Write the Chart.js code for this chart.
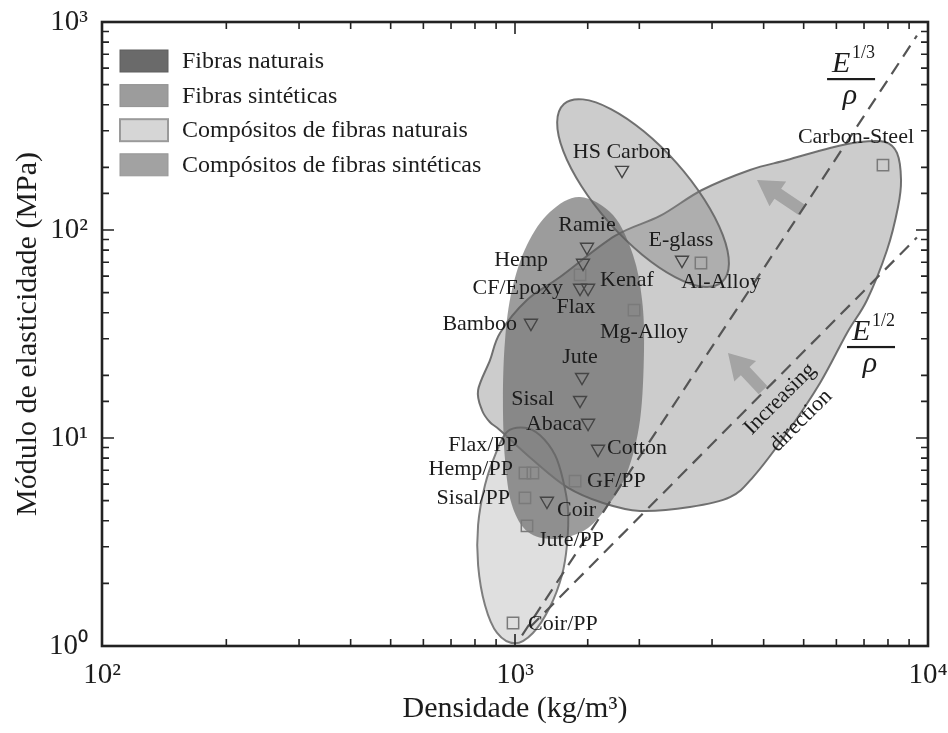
<!DOCTYPE html>
<html><head><meta charset="utf-8">
<script src="https://cdn.jsdelivr.net/npm/chart.js@4.4.1/dist/chart.umd.min.js"></script>
<style>html,body{margin:0;padding:0;background:#fff;}canvas{display:block;}</style>
</head><body>
<canvas id="c" width="948" height="733"></canvas>
<script>
// ---------------- DATA ----------------
const fiberNames = ['HS Carbon','Ramie','Hemp','Kenaf','Flax','Bamboo','E-glass','Jute','Sisal','Abaca','Cotton','Coir'];
const fiberDensity = [1816, 1494, 1461, 1503, 1437, 1093, 2537, 1453, 1437, 1503, 1589, 1195];
const fiberModulus = [194, 82.8, 69.4, 52.6, 52.6, 35.7, 71.7, 19.6, 15.2, 11.8, 8.85, 4.98];

const materialNames = ['CF/Epoxy','Mg-Alloy','Al-Alloy','Carbon-Steel','Flax/PP','Hemp/PP','GF/PP','Sisal/PP','Jute/PP','Coir/PP'];
const materialDensity = [1437, 1942, 2820, 7780, 1057, 1105, 1398, 1057, 1069, 989];
const materialModulus = [60.8, 41.2, 69.4, 205, 6.79, 6.79, 6.21, 5.15, 3.78, 1.29];

const xTickValues = [100, 1000, 10000];
const xTickLabels = ['10²', '10³', '10⁴'];
const yTickValues = [1, 10, 100, 1000];
const yTickLabels = ['10⁰', '10¹', '10²', '10³'];

const legendLabels = ['Fibras naturais', 'Fibras sintéticas', 'Compósitos de fibras naturais', 'Compósitos de fibras sintéticas'];

// region outlines (density kg/m3, modulus)
const natFiberRegionDensity = [1437,1727,1931,2031,2053,2008,1867,1670,1477,1250,1075,983,946,935,946,983,1069,1215];
const natFiberRegionModulus = [144,118,75.8,46.1,26.5,12.2,6.79,4.66,3.61,3.27,3.53,4.76,7.84,15.2,29.6,51.4,84.7,122];

const synFiberRegionDensity = [3171,3296,3184,2874,2464,2050,1707,1460,1314,1265,1309,1450,1692,2032,2442,2854];
const synFiberRegionModulus = [56.2,68.8,94.8,140.2,209.7,298.3,381.6,424.6,403.5,329.8,239.3,161.8,108.2,76.1,59.4,53.4];

const natCompRegionDensity = [956,1057,1150,1250,1307,1344,1336,1299,1215,1105,1000,905,846,814,814,846,895];
const natCompRegionModulus = [10.7,11.2,10.3,8.28,6.28,4.51,3.06,2.19,1.54,1.155,1.03,1.155,1.57,2.45,3.82,5.94,8.28];

const synCompRegionDensity = [7871,6844,5790,4556,3707,2836,2244,1746,1285,1069,920,870,814,832,870,920,1105,1336,1634,2008,2652,3316,3770,4556,5478,6366,7118,7958,8461,8604,8413];
const synCompRegionModulus = [265,265,248,217,194.4,155.7,116.8,93.6,59.4,46.1,32.0,23.7,17.0,13.6,11.9,10.9,7.84,5.81,4.87,4.46,4.66,5.20,6.49,10.6,18.4,32.0,46.1,80.1,129,174,234.6];

// guide lines E^(1/3)/rho and E^(1/2)/rho
const guideCubeDensity = [1040, 9400];
const guideCubeModulus = [1.125, 860];
const guideSquareDensity = [1087, 9400];
const guideSquareModulus = [1.23, 92];

// arrows (tail -> tip) in data units
const arrowTailDensity = [4953, 3986];
const arrowTailModulus = [124.8, 17.0];
const arrowTipDensity = [3855, 3279];
const arrowTipModulus = [174, 25.6];

// fraction annotations and rotated note anchors
const fracDensity = [6512, 7278];
const fracModulus = [532, 27.4];
const fracExponent = ['1/3', '1/2'];
const noteTexts = ['Increasing', 'direction'];
const noteDensity = [4381, 4925];
const noteModulus = [15.4, 12.1];

// ---------------- LAYOUT / STYLE ----------------
const FONT = "'Liberation Serif', 'Times New Roman', serif";
const TXT = '#1c1c1c';
// label offsets in px [dx, dy, align]
const fiberLabelLayout = [[0,-18,'center'],[0,-22,'center'],[-35,-3,'right'],[12,-8,'left'],[-4,19,'center'],[-14,1,'right'],[-1,-20,'center'],[-2,-20,'center'],[-26,-1,'right'],[-6,1,'right'],[9,-1,'left'],[10,9,'left']];
const materialLabelLayout = [[-17,13,'right'],[10,22,'center'],[20,19,'center'],[-27,-28,'center'],[-7,-28,'right'],[-20,-4,'right'],[12,0,'left'],[-15,0,'right'],[11,14,'left'],[15,1,'left']];

const regionStyles = [
  {d: synCompRegionDensity, m: synCompRegionModulus, fill: 'rgba(130,130,130,0.41)', stroke: 'rgba(105,105,105,0.95)'},
  {d: synFiberRegionDensity, m: synFiberRegionModulus, fill: 'rgba(130,130,130,0.41)', stroke: 'rgba(105,105,105,0.95)'},
  {d: natCompRegionDensity, m: natCompRegionModulus, fill: 'rgba(185,185,185,0.45)', stroke: 'rgba(120,120,120,0.95)'},
  {d: natFiberRegionDensity, m: natFiberRegionModulus, fill: 'rgba(95,95,95,0.62)', stroke: null}
];
const legendSwatches = [
  {fill: '#6a6a6a', stroke: '#5e5e5e'},
  {fill: '#9c9c9c', stroke: '#929292'},
  {fill: '#d6d6d6', stroke: '#9a9a9a'},
  {fill: '#a2a2a2', stroke: '#989898'}
];

function toPts(arrX, arrY) { return arrX.map((x, i) => ({x, y: arrY[i]})); }
function labelFor(values, labels) {
  return function(v) {
    for (let i = 0; i < values.length; i++) if (Math.abs(v - values[i]) / values[i] < 1e-6) return labels[i];
    return '';
  };
}
function closedSpline(ctx, p) {
  const n = p.length;
  ctx.beginPath();
  ctx.moveTo(p[0].x, p[0].y);
  for (let i = 0; i < n; i++) {
    const p0 = p[(i - 1 + n) % n], p1 = p[i], p2 = p[(i + 1) % n], p3 = p[(i + 2) % n];
    ctx.bezierCurveTo(p1.x + (p2.x - p0.x) / 6, p1.y + (p2.y - p0.y) / 6,
                      p2.x - (p3.x - p1.x) / 6, p2.y - (p3.y - p1.y) / 6, p2.x, p2.y);
  }
  ctx.closePath();
}
function drawArrow(ctx, x1, y1, x2, y2) {
  const ang = Math.atan2(y2 - y1, x2 - x1), L = Math.hypot(x2 - x1, y2 - y1);
  const hl = 25, hw = 15, sw = 6;
  ctx.save(); ctx.translate(x1, y1); ctx.rotate(ang);
  ctx.beginPath();
  ctx.moveTo(0, -sw); ctx.lineTo(L - hl, -sw); ctx.lineTo(L - hl, -hw); ctx.lineTo(L, 0);
  ctx.lineTo(L - hl, hw); ctx.lineTo(L - hl, sw); ctx.lineTo(0, sw); ctx.closePath();
  ctx.fill(); ctx.restore();
}

const regionsPlugin = {
  id: 'regions',
  beforeDatasetsDraw(chart) {
    const {ctx, chartArea: a, scales: {x, y}} = chart;
    ctx.save();
    ctx.beginPath(); ctx.rect(a.left, a.top, a.right - a.left, a.bottom - a.top); ctx.clip();
    regionStyles.forEach(r => {
      const pts = r.d.map((d, i) => ({x: x.getPixelForValue(d), y: y.getPixelForValue(r.m[i])}));
      closedSpline(ctx, pts);
      ctx.fillStyle = r.fill; ctx.fill();
      if (r.stroke) { ctx.strokeStyle = r.stroke; ctx.lineWidth = 2; ctx.stroke(); }
    });
    ctx.fillStyle = '#a4a4a4';
    arrowTailDensity.forEach((d, i) => {
      drawArrow(ctx, x.getPixelForValue(d), y.getPixelForValue(arrowTailModulus[i]),
                x.getPixelForValue(arrowTipDensity[i]), y.getPixelForValue(arrowTipModulus[i]));
    });
    ctx.restore();
  }
};

const labelsPlugin = {
  id: 'labels',
  afterDatasetsDraw(chart) {
    const {ctx, scales: {x, y}} = chart;
    ctx.save();
    ctx.fillStyle = TXT;
    ctx.font = '22px ' + FONT;
    ctx.textBaseline = 'middle';
    const put = (dsIndex, names, layout) => {
      const meta = chart.getDatasetMeta(dsIndex);
      names.forEach((n, i) => {
        const el = meta.data[i]; const L = layout[i];
        ctx.textAlign = L[2];
        ctx.fillText(n, el.x + L[0], el.y + L[1]);
      });
    };
    put(2, fiberNames, fiberLabelLayout);
    put(3, materialNames, materialLabelLayout);
    // fractions
    fracDensity.forEach((d, i) => {
      const cx = x.getPixelForValue(d), cy = y.getPixelForValue(fracModulus[i]);
      ctx.fillStyle = TXT;
      ctx.fillRect(cx - 24, cy - 1, 48, 2.2);
      ctx.textBaseline = 'alphabetic';
      ctx.textAlign = 'left';
      ctx.font = 'italic 30px ' + FONT;
      ctx.fillText('E', cx - 19, cy - 7);
      ctx.font = '18px ' + FONT;
      ctx.fillText(fracExponent[i], cx + 1, cy - 21);
      ctx.textAlign = 'center';
      ctx.font = 'italic 30px ' + FONT;
      ctx.fillText('ρ', cx - 1, cy + 25);
    });
    // rotated note
    ctx.font = '22px ' + FONT;
    ctx.textAlign = 'center'; ctx.textBaseline = 'middle';
    noteTexts.forEach((t, i) => {
      ctx.save();
      ctx.translate(x.getPixelForValue(noteDensity[i]), y.getPixelForValue(noteModulus[i]));
      ctx.rotate(-Math.PI / 4);
      ctx.fillText(t, 0, 0);
      ctx.restore();
    });
    ctx.restore();
  }
};

const framePlugin = {
  id: 'frame',
  afterDraw(chart) {
    const {ctx, chartArea: a, scales: {x, y}} = chart;
    ctx.save();
    ctx.strokeStyle = '#222'; ctx.lineWidth = 1.6;
    const isMajor = v => { const l = Math.log10(v); return Math.abs(l - Math.round(l)) < 1e-6; };
    ctx.beginPath();
    x.ticks.forEach(t => {
      const px = x.getPixelForValue(t.value); const len = isMajor(t.value) ? 12 : 7;
      ctx.moveTo(px, a.bottom); ctx.lineTo(px, a.bottom - len);
      ctx.moveTo(px, a.top); ctx.lineTo(px, a.top + len);
    });
    y.ticks.forEach(t => {
      const py = y.getPixelForValue(t.value); const len = isMajor(t.value) ? 12 : 7;
      ctx.moveTo(a.left, py); ctx.lineTo(a.left + len, py);
      ctx.moveTo(a.right, py); ctx.lineTo(a.right - len, py);
    });
    ctx.stroke();
    ctx.lineWidth = 2.6;
    ctx.strokeRect(a.left, a.top, a.right - a.left, a.bottom - a.top);
    // legend
    const sx = a.left + 18, bw = 48, bh = 22;
    ctx.font = '24px ' + FONT; ctx.textAlign = 'left'; ctx.textBaseline = 'middle';
    legendLabels.forEach((lab, i) => {
      const cy = a.top + 39 + i * 34.6;
      const s = legendSwatches[i];
      ctx.fillStyle = s.fill; ctx.fillRect(sx, cy - bh / 2, bw, bh);
      ctx.strokeStyle = s.stroke; ctx.lineWidth = i === 2 ? 2 : 1;
      ctx.strokeRect(sx, cy - bh / 2, bw, bh);
      ctx.fillStyle = TXT;
      ctx.fillText(lab, sx + bw + 14, cy + 1);
    });
    ctx.restore();
  }
};

const chart = new Chart(document.getElementById('c'), {
  type: 'scatter',
  data: {
    datasets: [
      {type: 'line', label: 'E^(1/3)/ρ', data: toPts(guideCubeDensity, guideCubeModulus), borderColor: '#555555', borderWidth: 2.2, borderDash: [13, 8], pointRadius: 0, fill: false},
      {type: 'line', label: 'E^(1/2)/ρ', data: toPts(guideSquareDensity, guideSquareModulus), borderColor: '#555555', borderWidth: 2.2, borderDash: [13, 8], pointRadius: 0, fill: false},
      {label: 'Fibras', data: toPts(fiberDensity, fiberModulus), pointStyle: 'triangle', rotation: 180, radius: 7.5, borderColor: '#454545', borderWidth: 1.4, backgroundColor: 'rgba(0,0,0,0)'},
      {label: 'Materiais', data: toPts(materialDensity, materialModulus), pointStyle: 'rect', radius: 8, borderColor: '#7a7a7a', borderWidth: 1.5, backgroundColor: 'rgba(0,0,0,0)'}
    ]
  },
  options: {
    responsive: false,
    animation: false,
    devicePixelRatio: 1,
    layout: {padding: {top: 22, right: 20, left: 0, bottom: 0}},
    plugins: {legend: {display: false}, tooltip: {enabled: false}},
    scales: {
      x: {
        type: 'logarithmic', min: 100, max: 10000, position: 'bottom',
        grid: {display: false, drawTicks: false}, border: {display: false},
        ticks: {autoSkip: false, maxRotation: 0, padding: 12, color: TXT, font: {family: FONT, size: 29}, callback: labelFor(xTickValues, xTickLabels)},
        title: {display: true, text: 'Densidade (kg/m³)', color: TXT, font: {family: FONT, size: 30}, padding: {top: 0, bottom: 6}},
        afterFit(s) { s.height = 87; s.paddingLeft = 0; s.paddingRight = 0; }
      },
      y: {
        type: 'logarithmic', min: 1, max: 1000, position: 'left',
        grid: {display: false, drawTicks: false}, border: {display: false},
        ticks: {autoSkip: false, padding: 14, color: TXT, font: {family: FONT, size: 29}, callback: labelFor(yTickValues, yTickLabels)},
        title: {display: true, text: 'Módulo de elasticidade (MPa)', color: TXT, font: {family: FONT, size: 30}, padding: {top: 10, bottom: 0}},
        afterFit(s) { s.width = 102; s.paddingTop = 0; s.paddingBottom = 0; }
      }
    }
  },
  plugins: [regionsPlugin, labelsPlugin, framePlugin]
});
</script>
</body></html>
